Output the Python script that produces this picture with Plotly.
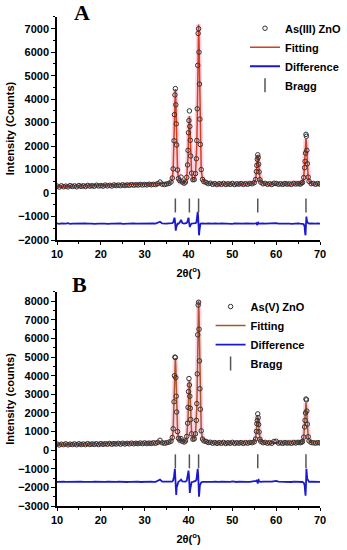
import plotly.graph_objects as go

# ---------------- data ----------------
two_theta = [
    # background 10 - 35.5
    10.0, 10.5, 11.0, 11.5, 12.0, 12.5, 13.0, 13.5, 14.0, 14.5,
    15.0, 15.5, 16.0, 16.5, 17.0, 17.5, 18.0, 18.5, 19.0, 19.5,
    20.0, 20.5, 21.0, 21.5, 22.0, 22.5, 23.0, 23.5, 24.0, 24.5,
    25.0, 25.5, 26.0, 26.5, 27.0, 27.5, 28.0, 28.5, 29.0, 29.5,
    30.0, 30.5, 31.0, 31.5, 32.0, 32.5, 33.0, 33.5, 34.0, 34.5,
    35.0, 35.5,
    # peaks near 37, 40, 42
    36.0, 36.3, 36.5, 36.7, 36.8, 36.9, 37.0, 37.1, 37.2, 37.3,
    37.5, 37.7, 38.0, 38.3, 38.6, 39.0, 39.3, 39.6, 39.8, 39.9,
    40.0, 40.1, 40.2, 40.3, 40.4, 40.5, 40.7, 41.0, 41.3, 41.6,
    41.8, 41.9, 42.0, 42.1, 42.2, 42.3, 42.4, 42.5, 42.6, 42.7,
    42.9, 43.2, 43.5,
    # background 44 - 55
    44.0, 44.5, 45.0, 45.5, 46.0, 46.5, 47.0, 47.5, 48.0, 48.5,
    49.0, 49.5, 50.0, 50.5, 51.0, 51.5, 52.0, 52.5, 53.0, 53.5,
    54.0, 54.5, 55.0,
    # peak near 56
    55.3, 55.5, 55.6, 55.7, 55.8, 55.9, 56.0, 56.1, 56.3,
    # background 56.5 - 65.5
    56.5, 57.0, 57.5, 58.0, 58.5, 59.0, 59.5, 60.0, 60.5, 61.0,
    61.5, 62.0, 62.5, 63.0, 63.5, 64.0, 64.5, 65.0, 65.5,
    # peak near 67
    65.8, 66.0, 66.3, 66.5, 66.6, 66.7, 66.8, 66.9, 67.0, 67.1, 67.3, 67.5,
    # background 68 - 70
    68.0, 68.5, 69.0, 69.5, 70.0,
]

# ---- panel A : As(III) ZnO ----
obs_A = [
    300, 255, 310, 270, 295, 262, 318, 280, 305, 268,
    320, 285, 310, 278, 325, 295, 312, 290, 335, 300,
    318, 295, 340, 305, 330, 300, 345, 318, 340, 315,
    350, 322, 345, 330, 360, 335, 355, 340, 368, 345,
    362, 348, 375, 352, 368, 360, 400, 470, 378, 362,
    385, 410,
    470, 640, 1030, 2230, 3340, 4180, 4450, 3760, 2950, 2050,
    985, 615, 530, 680, 470, 420, 470, 670, 1200, 1820,
    2570, 3090, 3500, 2840, 2250, 1580, 850, 570, 575, 830,
    1460, 2240, 3590, 5440, 6800, 7000, 6000, 4640, 3150, 2070,
    1000, 580, 490,
    455, 400, 420, 370, 405, 360, 400, 372, 410, 365,
    398, 370, 412, 360, 395, 378, 405, 368, 400, 375,
    410, 395, 445,
    575, 915, 1180, 1440, 1630, 1520, 1230, 900, 570,
    460, 395, 415, 372, 400, 365, 420, 410, 375, 398,
    370, 405, 380, 392, 368, 410, 385, 400, 380,
    425, 450, 660, 1080, 1350, 1700, 2500, 2420, 1820, 1250, 680, 500,
    400, 410, 375, 405, 380,
]
fit_A = [
    280, 282, 284, 286, 288, 290, 292, 294, 296, 298,
    300, 302, 304, 306, 308, 310, 312, 314, 316, 318,
    320, 322, 324, 326, 328, 330, 332, 334, 336, 338,
    340, 342, 344, 346, 348, 350, 352, 354, 356, 358,
    360, 362, 364, 366, 368, 370, 372, 395, 374, 376,
    380, 405,
    460, 623, 988, 2081, 3094, 4025, 4430, 4025, 3094, 2081,
    988, 623, 480, 510, 440, 425, 467, 641, 1105, 1598,
    2323, 2990, 3280, 2990, 2323, 1598, 845, 564, 574, 808,
    1410, 2090, 3236, 4936, 6500, 7180, 6500, 4936, 3236, 2090,
    992, 584, 482,
    440, 415, 400, 392, 388, 385, 385, 384, 384, 384,
    383, 383, 383, 383, 383, 383, 383, 384, 384, 386,
    392, 405, 429,
    565, 897, 1204, 1487, 1610, 1487, 1204, 897, 565,
    454, 410, 395, 390, 388, 386, 390, 395, 388, 386,
    386, 386, 386, 386, 388, 390, 392, 396, 399,
    419, 457, 670, 1191, 1673, 2117, 2310, 2117, 1673, 1191, 670, 496,
    409, 395, 390, 388, 386,
]
diff_A = [
    -1290, -1310, -1295, -1305, -1300, -1285, -1310, -1300, -1295, -1305,
    -1290, -1310, -1300, -1295, -1305, -1290, -1300, -1310, -1295, -1300,
    -1305, -1290, -1300, -1310, -1295, -1300, -1305, -1295, -1300, -1290,
    -1310, -1300, -1295, -1305, -1300, -1290, -1305, -1300, -1295, -1310,
    -1300, -1290, -1305, -1300, -1295, -1300, -1260, -1220, -1290, -1305,
    -1300, -1290,
    -1290, -1280, -1250, -1150, -1050, -1150, -1350, -1600, -1450, -1330,
    -1300, -1310, -1250, -1140, -1280, -1300, -1295, -1270, -1200, -1080,
    -1050, -1200, -1400, -1450, -1380, -1320, -1300, -1295, -1300, -1280,
    -1250, -1150, -950, -800, -1000, -1500, -1800, -1600, -1400, -1320,
    -1290, -1300, -1295,
    -1300, -1290, -1305, -1300, -1295, -1310, -1300, -1290, -1300, -1305,
    -1295, -1300, -1310, -1290, -1300, -1295, -1305, -1300, -1290, -1300,
    -1305, -1295, -1300,
    -1290, -1280, -1330, -1360, -1300, -1260, -1280, -1300, -1295,
    -1300, -1290, -1305, -1300, -1295, -1290, -1270, -1280, -1300, -1295,
    -1305, -1300, -1290, -1300, -1310, -1295, -1300, -1290, -1305,
    -1300, -1310, -1330, -1450, -1700, -1800, -1350, -1000, -1150, -1250, -1290, -1300,
    -1295, -1305, -1300, -1290, -1300,
]

# ---- panel B : As(V) ZnO ----
obs_B = [
    330, 280, 320, 295, 340, 285, 325, 300, 335, 290,
    345, 300, 330, 298, 350, 305, 335, 310, 345, 300,
    350, 315, 345, 320, 360, 318, 350, 330, 365, 325,
    370, 330, 365, 340, 375, 345, 370, 350, 385, 352,
    390, 355, 380, 362, 395, 370, 420, 530, 395, 372,
    400, 430,
    480, 680, 1150, 2600, 4000, 5000, 4980, 3900, 2900, 2050,
    1000, 640, 540, 620, 480, 440, 500, 740, 1450, 2300,
    3150, 3850, 3500, 2900, 2250, 1650, 880, 590, 610, 880,
    1600, 2500, 4100, 6200, 7800, 7950, 6500, 4800, 3300, 2200,
    1040, 600, 500,
    470, 410, 425, 375, 410, 365, 405, 370, 415, 360,
    400, 372, 420, 365, 400, 375, 410, 365, 405, 378,
    415, 400, 450,
    600, 1010, 1420, 1600, 1950, 1750, 1380, 980, 590,
    470, 400, 420, 375, 405, 370, 470, 480, 380, 400,
    368, 405, 380, 395, 372, 410, 385, 415, 400,
    430, 460, 700, 1250, 1600, 2000, 2750, 2700, 2100, 1400, 720, 500,
    410, 395, 380, 405, 385,
]
fit_B = [
    310, 311, 312, 313, 314, 315, 316, 317, 318, 319,
    320, 321, 322, 323, 324, 325, 326, 327, 328, 329,
    330, 332, 334, 336, 338, 340, 342, 344, 346, 348,
    350, 352, 354, 356, 358, 360, 362, 364, 366, 368,
    370, 371, 372, 373, 374, 375, 385, 420, 378, 380,
    390, 415,
    471, 654, 1066, 2299, 3442, 4493, 4950, 4493, 3442, 2299,
    1066, 654, 500, 580, 470, 430, 481, 683, 1223, 1795,
    2638, 3413, 3750, 3413, 2638, 1795, 916, 595, 607, 864,
    1528, 2293, 3593, 5506, 7265, 8030, 7265, 5506, 3593, 2293,
    1069, 610, 495,
    455, 425, 405, 395, 390, 388, 386, 385, 385, 385,
    385, 385, 385, 385, 385, 385, 385, 386, 387, 389,
    395, 410, 437,
    593, 976, 1331, 1658, 1800, 1658, 1331, 976, 593,
    465, 415, 398, 392, 390, 390, 415, 418, 392, 388,
    386, 386, 386, 388, 390, 392, 396, 400, 408,
    423, 467, 706, 1291, 1834, 2333, 2550, 2333, 1834, 1291, 706, 510,
    415, 398, 392, 390, 388,
]
diff_B = [
    -1700, -1690, -1710, -1695, -1705, -1700, -1690, -1710, -1700, -1695,
    -1705, -1690, -1700, -1710, -1695, -1700, -1705, -1690, -1700, -1710,
    -1695, -1700, -1705, -1690, -1700, -1710, -1695, -1700, -1690, -1705,
    -1700, -1695, -1710, -1700, -1690, -1705, -1700, -1695, -1710, -1700,
    -1690, -1705, -1700, -1695, -1700, -1705, -1640, -1580, -1690, -1700,
    -1710, -1690,
    -1690, -1680, -1620, -1400, -1150, -1000, -1500, -2200, -2400, -2000,
    -1750, -1700, -1650, -1580, -1680, -1700, -1690, -1640, -1450, -1200,
    -1100, -1350, -1950, -2300, -2100, -1850, -1720, -1700, -1690, -1650,
    -1600, -1450, -1200, -1000, -1250, -1900, -2500, -2200, -1900, -1800,
    -1730, -1700, -1695,
    -1700, -1690, -1705, -1700, -1695, -1710, -1700, -1690, -1700, -1705,
    -1695, -1700, -1680, -1700, -1710, -1695, -1705, -1700, -1690, -1700,
    -1705, -1695, -1700,
    -1690, -1650, -1600, -1750, -1800, -1620, -1600, -1680, -1700,
    -1700, -1690, -1705, -1700, -1695, -1690, -1660, -1650, -1690, -1700,
    -1705, -1700, -1690, -1700, -1710, -1695, -1700, -1690, -1705,
    -1700, -1710, -1750, -1900, -2200, -2450, -1900, -1000, -1300, -1550, -1680, -1700,
    -1695, -1705, -1700, -1690, -1700,
]

bragg_pos = [37.0, 40.2, 42.3, 55.8, 66.8]
bragg_A = [-530, -530, -530, -530, -530]
bragg_B = [-600, -600, -600, -600, -600]

for name, arr in [("obs_A", obs_A), ("fit_A", fit_A), ("diff_A", diff_A),
                  ("obs_B", obs_B), ("fit_B", fit_B), ("diff_B", diff_B)]:
    assert len(arr) == len(two_theta), (name, len(arr), len(two_theta))

# ---------------- figure ----------------
SANS = "Arial, Liberation Sans, sans-serif"
fig = go.Figure()


def add_panel(xa, ya, leg, obs, fit, diff, bragg, label, fit_col):
    fig.add_trace(go.Scatter(x=two_theta, y=fit, mode="lines", xaxis=xa, yaxis=ya,
                             line=dict(color="rgba(255,130,180,0.35)", width=5),
                             showlegend=False, hoverinfo="skip"))
    fig.add_trace(go.Scatter(x=two_theta, y=fit, mode="lines", name="Fitting",
                             xaxis=xa, yaxis=ya, legend=leg, legendrank=2,
                             line=dict(color=fit_col, width=1.5)))
    fig.add_trace(go.Scatter(x=two_theta, y=obs, mode="markers", name=label,
                             xaxis=xa, yaxis=ya, legend=leg, legendrank=1,
                             marker=dict(symbol="circle-open", size=4.5, color="#333333",
                                         line=dict(width=1))))
    fig.add_trace(go.Scatter(x=two_theta, y=diff, mode="lines", name="Difference",
                             xaxis=xa, yaxis=ya, legend=leg, legendrank=3,
                             line=dict(color="#1a1acc", width=1.8)))
    fig.add_trace(go.Scatter(x=bragg_pos, y=bragg, mode="markers", name="Bragg",
                             xaxis=xa, yaxis=ya, legend=leg, legendrank=4,
                             marker=dict(symbol="line-ns", size=10,
                                         line=dict(color="#555555", width=1.5))))


add_panel("x", "y", "legend", obs_A, fit_A, diff_A, bragg_A, "As(III) ZnO", "#d2401e")
add_panel("x2", "y2", "legend2", obs_B, fit_B, diff_B, bragg_B, "As(V) ZnO", "#a8582a")

tickfont = dict(family=SANS, size=11, color="black", weight="bold")
titlefont = dict(family=SANS, size=11, color="black", weight="bold")


def xaxis_cfg(anchor):
    return dict(range=[10, 70], dtick=10, tick0=10, anchor=anchor, domain=[0, 1],
                showline=True, linecolor="black", linewidth=1.5,
                ticks="outside", ticklen=3, tickwidth=1.2, tickcolor="black",
                minor=dict(dtick=5, ticks="outside", ticklen=2, tickcolor="black"),
                showgrid=False, zeroline=False, tickfont=tickfont,
                title=dict(text="2θ(<sup>o</sup>)", font=titlefont, standoff=10),
                automargin=False)


def yaxis_cfg(anchor, rng, dom, title):
    return dict(range=rng, dtick=1000, anchor=anchor, domain=dom,
                showline=True, linecolor="black", linewidth=1.5,
                ticks="outside", ticklen=4, tickwidth=1.2, tickcolor="black",
                minor=dict(dtick=500, ticks="outside", ticklen=2.5, tickcolor="black"),
                showgrid=False, zeroline=False, tickfont=tickfont,
                title=dict(text=title, font=titlefont, standoff=1),
                automargin=False)


legfont = dict(family=SANS, size=11, color="black", weight="bold")
fig.update_layout(
    width=347, height=550,
    margin=dict(l=57, r=16, t=0, b=0),
    paper_bgcolor="white", plot_bgcolor="white",
    xaxis=xaxis_cfg("y"),
    yaxis=yaxis_cfg("x", [-2000, 7500], [0.5636, 0.9691], "Intensity (Counts)"),
    xaxis2=xaxis_cfg("y2"),
    yaxis2=yaxis_cfg("x2", [-3000, 8500], [0.08, 0.4691], "Intensity (counts)"),
    legend=dict(x=0.715, y=0.975, xanchor="left", yanchor="top", font=legfont,
                bgcolor="rgba(0,0,0,0)", itemwidth=30, tracegroupgap=0),
    legend2=dict(x=0.584, y=0.469, xanchor="left", yanchor="top", font=legfont,
                 bgcolor="rgba(0,0,0,0)", itemwidth=30, tracegroupgap=0),
    annotations=[
        dict(text="<b>A</b>", x=0.095, y=0.978, xref="paper", yref="paper",
             showarrow=False, xanchor="center", yanchor="middle",
             font=dict(family="Liberation Serif, Times New Roman, serif", size=22, color="black")),
        dict(text="<b>B</b>", x=0.084, y=0.483, xref="paper", yref="paper",
             showarrow=False, xanchor="center", yanchor="middle",
             font=dict(family="Liberation Serif, Times New Roman, serif", size=22, color="black")),
    ],
)

fig.write_html("out.html", config={"displayModeBar": False},
               post_script="document.body.style.margin='0';")
